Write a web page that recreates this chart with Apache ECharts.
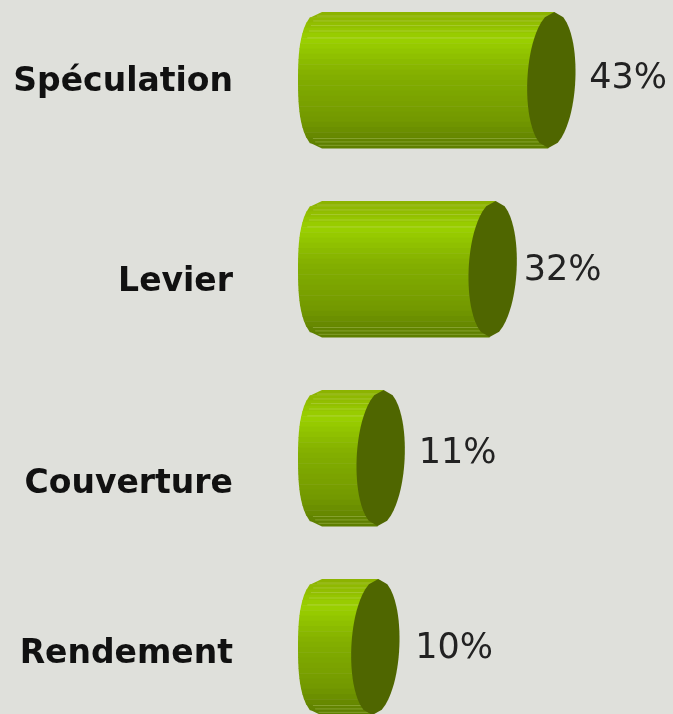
<!DOCTYPE html>
<html>
<head>
<meta charset="utf-8">
<title>Chart</title>
<script src="https://cdn.jsdelivr.net/npm/echarts@6/dist/echarts.min.js"></script>
<style type="text/css">
    html, body { margin: 0; padding: 0; background: #dfe0db; }
    #main { width: 673px; height: 714px; }
</style>
</head>
<body>
<div id="main"></div>
<script type="text/javascript">
var categories = ['Spéculation', 'Levier', 'Couverture', 'Rendement'];
var values = [43, 32, 11, 10];
var tickLabels = ['43%', '32%', '11%', '10%'];

// text nudges, the labels in the picture do not sit on the bar centres
var nameNudge = [2, 13, 26, 7];
var valueNudgeX = [14, 7, 14, 16];
var valueNudgeY = [-1, 2, -4, 2];

var chart = echarts.init(document.getElementById('main'));

var SLICES = 26;
var RX = 24;
var ROUNDNESS = 2.5;
var CAP_ROUNDNESS = 2;
var CAP_SKEW = 3;

// top to bottom shading of the tube
function shade(t) {
    var stops = [[0, [138, 176, 0]], [0.2, [154, 208, 0]], [0.45, [132, 176, 0]], [0.8, [114, 152, 0]], [1, [92, 124, 0]]];
    for (var i = 1; i < stops.length; i++) {
        if (t <= stops[i][0]) {
            var a = stops[i - 1], b = stops[i];
            var k = (t - a[0]) / (b[0] - a[0]);
            return 'rgb(' + [0, 1, 2].map(function (c) {
                return Math.round(a[1][c] + (b[1][c] - a[1][c]) * k);
            }).join(',') + ')';
        }
    }
    return 'rgb(92,124,0)';
}

function renderCylinder(params, api) {
    var i = api.value(1);
    var base = api.coord([0, i]);
    var end = api.coord([api.value(0), i]);
    var h = api.size([0, 1])[1] * 0.72;
    var ry = h / 2;
    var children = [];

    // the tube end is a bit squarer than a true ellipse
    function edge(y, n) {
        var r = 1 - Math.pow(Math.abs(y) / ry, n);
        return RX * Math.pow(Math.max(r, 0), 1 / n);
    }
    // the cap leans to the right at the top
    function capCenter(y) {
        return end[0] - CAP_SKEW * y / ry;
    }

    // body, cut in flat slices like the picture
    for (var s = 0; s < SLICES; s++) {
        var y0 = -ry + h * s / SLICES;
        var y1 = -ry + h * (s + 1) / SLICES;
        children.push({
            type: 'polygon',
            shape: { points: [
                [base[0] - edge(y0, ROUNDNESS), base[1] + y0],
                [capCenter(y0), base[1] + y0],
                [capCenter(y1), base[1] + y1 + 0.5],
                [base[0] - edge(y1, ROUNDNESS), base[1] + y1 + 0.5]
            ] },
            style: { fill: shade((s + 0.5) / SLICES) }
        });
    }

    // thin light lines near the top and bottom of the tube
    [0.03, 0.066, 0.1, 0.14, 0.19, 0.93, 0.955, 0.98].forEach(function (f) {
        var y = -ry + h * f;
        children.push({
            type: 'line',
            shape: { x1: base[0] - edge(y, ROUNDNESS) + 6, y1: base[1] + y, x2: capCenter(y), y2: base[1] + y },
            style: { stroke: 'rgba(215,230,150,0.3)', lineWidth: 1 }
        });
    });

    // end cap
    var capPoints = [];
    for (var p = 0; p <= SLICES; p++) {
        var yr = -ry + h * p / SLICES;
        capPoints.push([capCenter(yr) + edge(yr, CAP_ROUNDNESS), base[1] + yr]);
    }
    for (var q = SLICES - 1; q > 0; q--) {
        var yl = -ry + h * q / SLICES;
        capPoints.push([capCenter(yl) - edge(yl, CAP_ROUNDNESS), base[1] + yl]);
    }
    children.push({ type: 'polygon', shape: { points: capPoints }, style: { fill: '#4f6600' } });

    children.push({
        type: 'text',
        style: {
            text: categories[i],
            x: 233,
            y: base[1] + nameNudge[i],
            align: 'right',
            verticalAlign: 'middle',
            font: 'bold 33px "DejaVu Sans"',
            fill: '#111'
        }
    });
    children.push({
        type: 'text',
        style: {
            text: tickLabels[i],
            x: end[0] + RX + valueNudgeX[i],
            y: base[1] + valueNudgeY[i],
            align: 'left',
            verticalAlign: 'middle',
            font: '35px "DejaVu Sans"',
            fill: '#222'
        }
    });
    return { type: 'group', children: children };
}

var option = {
    backgroundColor: '#dfe0db',
    animation: false,
    grid: { left: 322, width: 320, top: -14.5, height: 756, outerBoundsMode: 'none' },
    xAxis: { type: 'value', min: 0, max: 60, show: false },
    yAxis: { type: 'category', data: categories, inverse: true, show: false },
    series: [{
        type: 'custom',
        clip: false,
        renderItem: renderCylinder,
        encode: { x: 0, y: 1 },
        data: values.map(function (v, i) { return [v, i]; })
    }]
};
chart.setOption(option);
</script>
</body>
</html>
